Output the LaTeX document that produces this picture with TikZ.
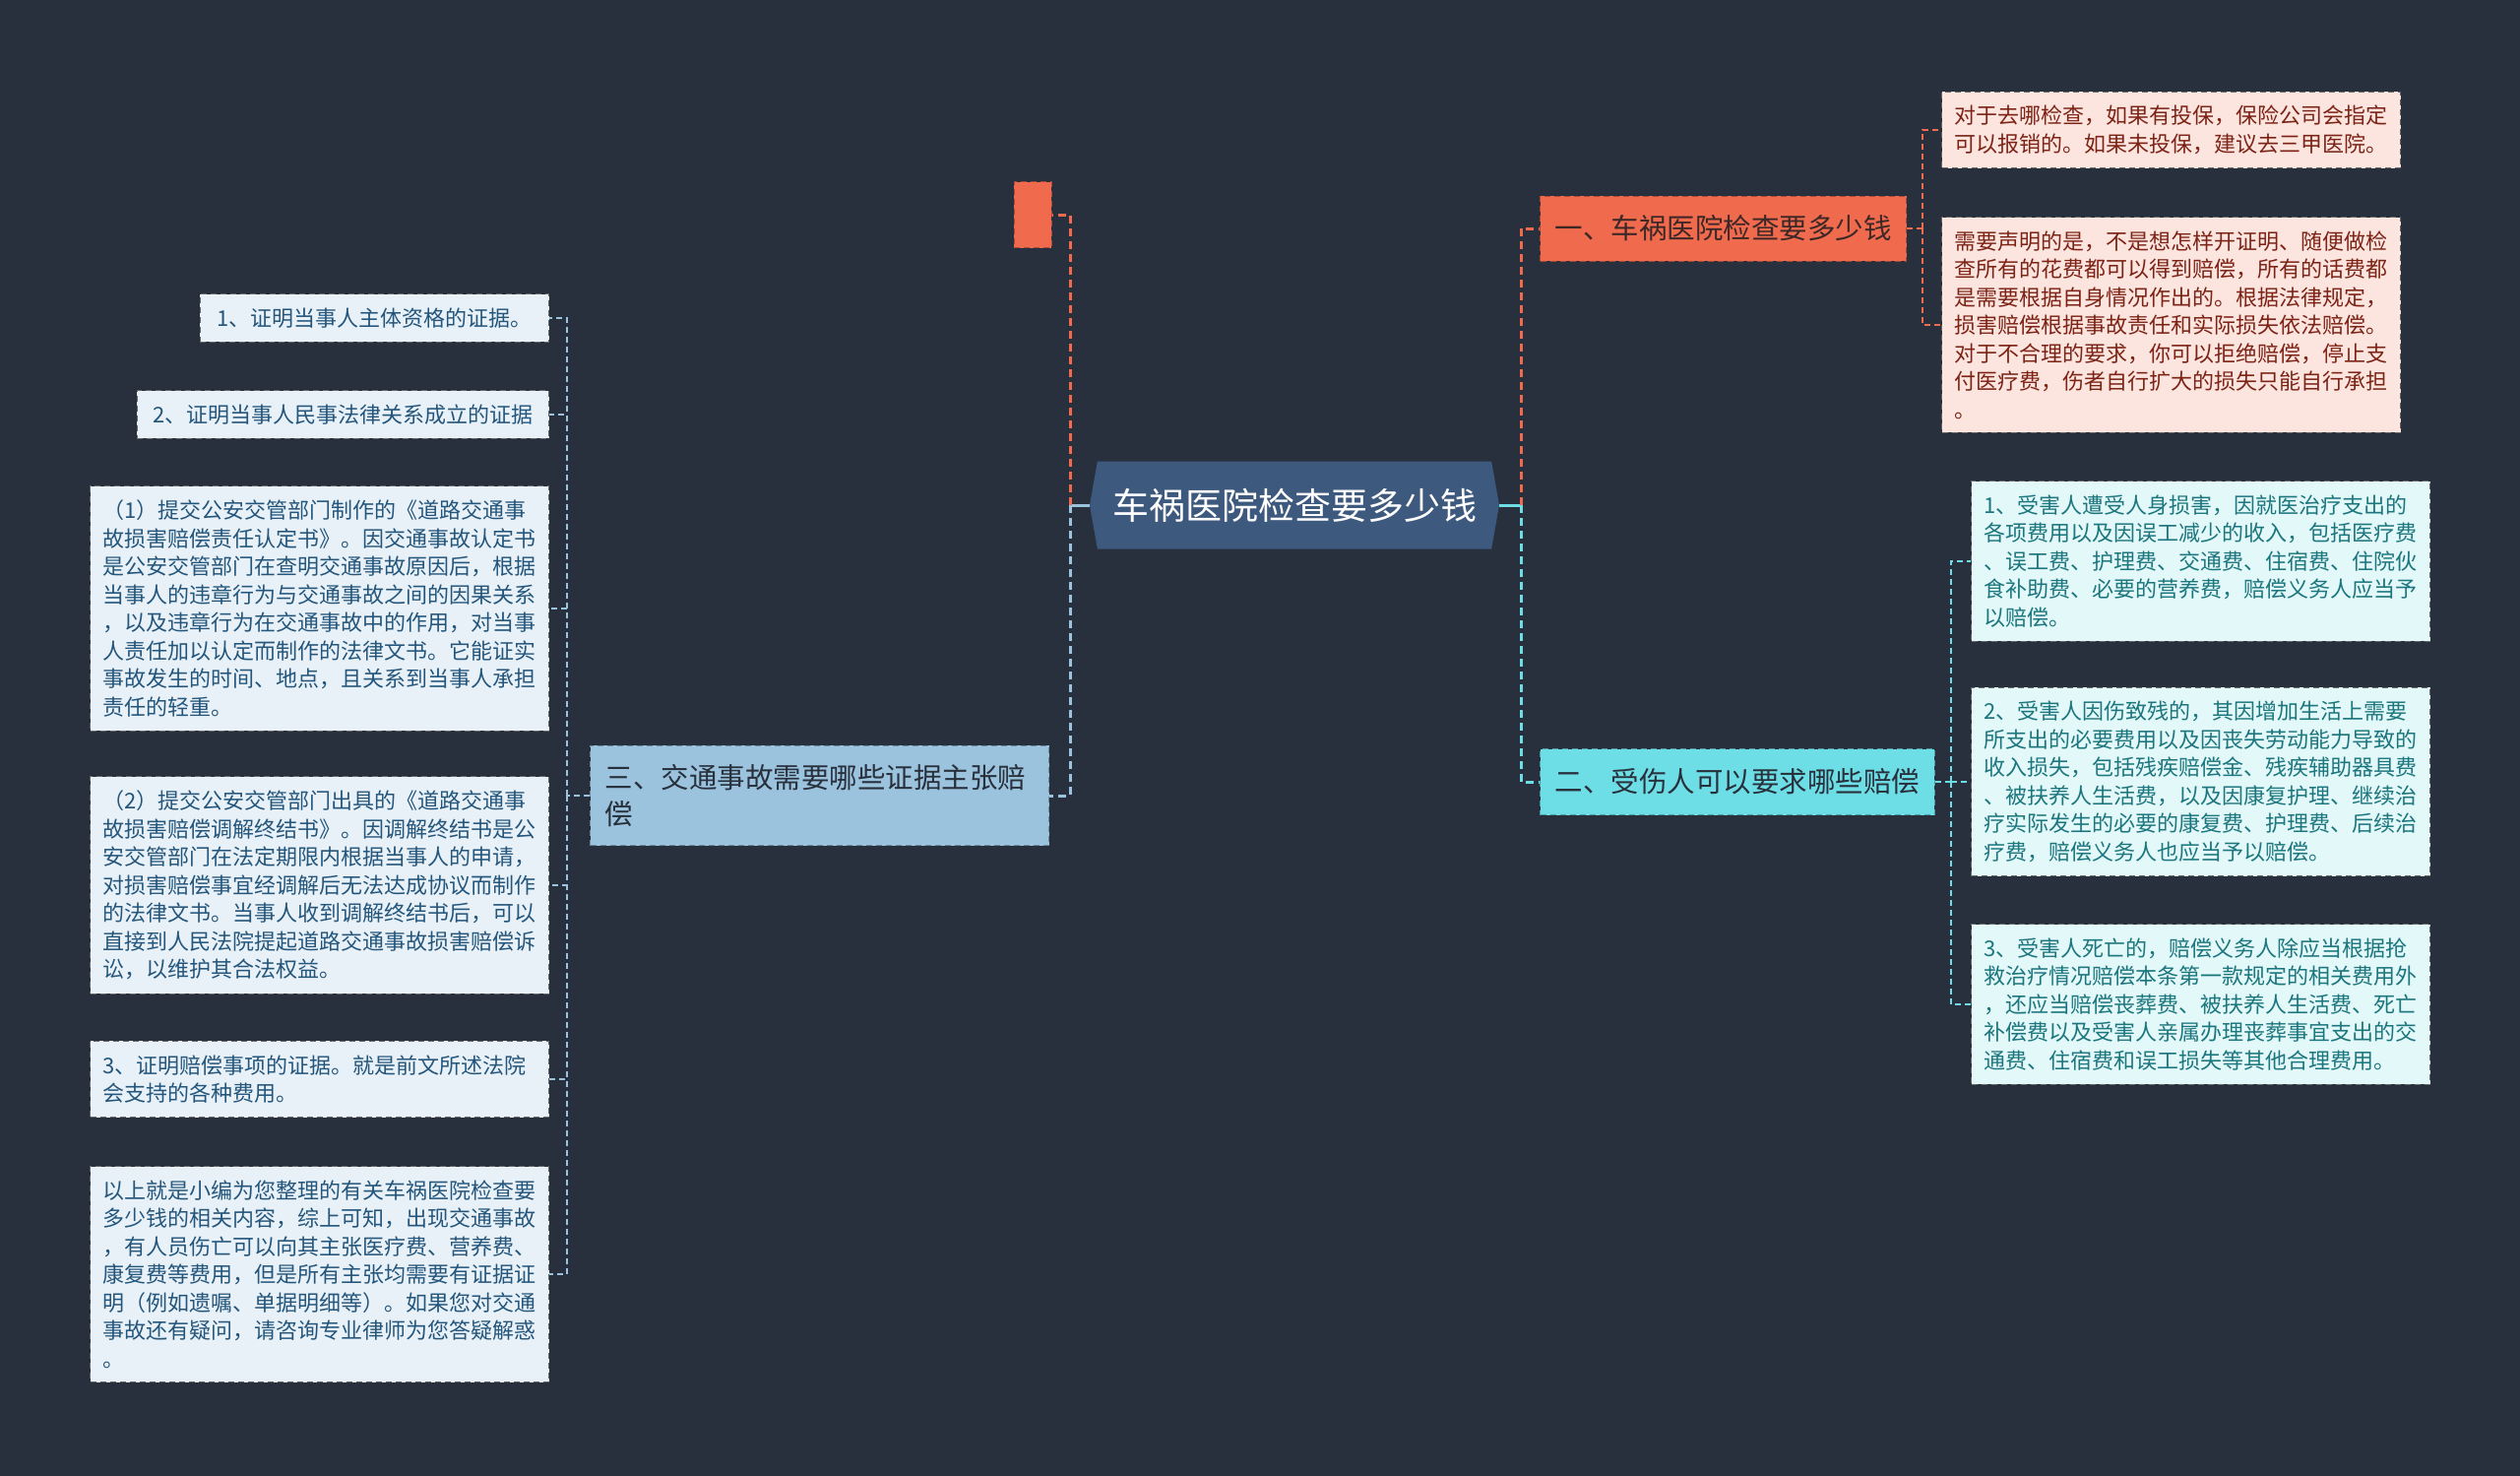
\documentclass[tikz,border=0pt]{standalone}
\usepackage{fontspec}
\setmainfont{Noto Sans CJK SC}
\usetikzlibrary{shapes.symbols}
\definecolor{bgnavy}{RGB}{40,48,62}
\definecolor{hubblue}{RGB}{61,89,126}
\definecolor{coral}{RGB}{240,106,78}
\definecolor{aqua}{RGB}{110,222,230}
\definecolor{skyblue}{RGB}{155,195,222}
\definecolor{pinkfill}{RGB}{252,229,223}
\definecolor{pinktext}{RGB}{125,35,22}
\definecolor{aquafill}{RGB}{226,248,249}
\definecolor{aquatext}{RGB}{28,118,126}
\definecolor{bluefill}{RGB}{233,241,248}
\definecolor{bluetext}{RGB}{36,86,124}
\definecolor{darktext}{RGB}{40,48,60}
\definecolor{browntext}{RGB}{60,40,38}
\begin{document}
\begin{tikzpicture}[x=1pt, y=-1pt,
    hub/.style={shape=signal, signal to=west and east, signal pointer angle=160, fill=hubblue, text=white,
        minimum width=416pt, minimum height=89pt, inner sep=0pt, font=\fontsize{37}{40}\selectfont},
    branch/.style={draw=#1!70!black, fill=#1, dash pattern=on 6pt off 4pt, line width=1pt,
        inner xsep=15pt, font=\fontsize{28.5}{37.5}\selectfont},
    leaf/.style={draw=black!60, dash pattern=on 6pt off 4pt, line width=1pt, align=left,
        inner xsep=13pt, inner ysep=14pt, font=\fontsize{22}{28.5}\selectfont},
    wide/.style={text width=440pt},
    leafR/.style={leaf, wide, fill=pinkfill, text=pinktext},
    leafC/.style={leaf, wide, fill=aquafill, text=aquatext},
    leafB/.style={leaf, fill=bluefill, text=bluetext},
    stub/.style={draw=#1, line width=3pt},
    trunk/.style={draw=#1, line width=3pt, dash pattern=on 8pt off 5pt},
    twig/.style={draw=#1, line width=1.5pt, dash pattern=on 6pt off 4pt}]
\fill[bgnavy] (0,0) rectangle (2560,1499);
\useasboundingbox (0,0) rectangle (2560,1499);

\node[hub] (hub) at (1315,513) {车祸医院检查要多少钱};

\node[branch=coral, text=browntext, minimum height=66pt, anchor=west] (b1) at (1564,232) {一、车祸医院检查要多少钱};
\node[branch=aqua, text=darktext, minimum height=67pt, anchor=west] (b2) at (1564,794) {二、受伤人可以要求哪些赔偿};
\node[branch=skyblue, text=darktext, align=left, text width=436pt, inner ysep=19pt, anchor=east] (b3) at (1066,808)
    {三、交通事故需要哪些证据主张赔\\偿};
\node[draw=coral!70!black, fill=coral, dash pattern=on 6pt off 4pt, line width=1pt,
    minimum width=38pt, minimum height=67pt, inner sep=0pt] (blank) at (1049,218) {};

\node[leafR, anchor=west] (a1) at (1972,132) {对于去哪检查，如果有投保，保险公司会指定\\可以报销的。如果未投保，建议去三甲医院。};
\node[leafR, anchor=west] (a2) at (1972,330) {需要声明的是，不是想怎样开证明、随便做检\\查所有的花费都可以得到赔偿，所有的话费都\\是需要根据自身情况作出的。根据法律规定，\\损害赔偿根据事故责任和实际损失依法赔偿。\\对于不合理的要求，你可以拒绝赔偿，停止支\\付医疗费，伤者自行扩大的损失只能自行承担\\。};

\node[leafC, anchor=west] (c1) at (2002,570) {1、受害人遭受人身损害，因就医治疗支出的\\各项费用以及因误工减少的收入，包括医疗费\\、误工费、护理费、交通费、住宿费、住院伙\\食补助费、必要的营养费，赔偿义务人应当予\\以赔偿。};
\node[leafC, anchor=west] (c2) at (2002,794) {2、受害人因伤致残的，其因增加生活上需要\\所支出的必要费用以及因丧失劳动能力导致的\\收入损失，包括残疾赔偿金、残疾辅助器具费\\、被扶养人生活费，以及因康复护理、继续治\\疗实际发生的必要的康复费、护理费、后续治\\疗费，赔偿义务人也应当予以赔偿。};
\node[leafC, anchor=west] (c3) at (2002,1020) {3、受害人死亡的，赔偿义务人除应当根据抢\\救治疗情况赔偿本条第一款规定的相关费用外\\，还应当赔偿丧葬费、被扶养人生活费、死亡\\补偿费以及受害人亲属办理丧葬事宜支出的交\\通费、住宿费和误工损失等其他合理费用。};

\node[leafB, inner xsep=17pt, anchor=east] (d1) at (558,323) {1、证明当事人主体资格的证据。};
\node[leafB, inner xsep=16pt, anchor=east] (d2) at (558,421) {2、证明当事人民事法律关系成立的证据};
\node[leafB, wide, anchor=east] (d3) at (558,618) {（1）提交公安交管部门制作的《道路交通事\\故损害赔偿责任认定书》。因交通事故认定书\\是公安交管部门在查明交通事故原因后，根据\\当事人的违章行为与交通事故之间的因果关系\\，以及违章行为在交通事故中的作用，对当事\\人责任加以认定而制作的法律文书。它能证实\\事故发生的时间、地点，且关系到当事人承担\\责任的轻重。};
\node[leafB, wide, anchor=east] (d4) at (558,899) {（2）提交公安交管部门出具的《道路交通事\\故损害赔偿调解终结书》。因调解终结书是公\\安交管部门在法定期限内根据当事人的申请，\\对损害赔偿事宜经调解后无法达成协议而制作\\的法律文书。当事人收到调解终结书后，可以\\直接到人民法院提起道路交通事故损害赔偿诉\\讼，以维护其合法权益。};
\node[leafB, wide, anchor=east] (d5) at (558,1096) {3、证明赔偿事项的证据。就是前文所述法院\\会支持的各种费用。};
\node[leafB, wide, anchor=east] (d6) at (558,1294) {以上就是小编为您整理的有关车祸医院检查要\\多少钱的相关内容，综上可知，出现交通事故\\，有人员伤亡可以向其主张医疗费、营养费、\\康复费等费用，但是所有主张均需要有证据证\\明（例如遗嘱、单据明细等）。如果您对交通\\事故还有疑问，请咨询专业律师为您答疑解惑\\。};

\coordinate (lj) at (1087,513);
\coordinate (rj) at (1545,513);
\coordinate (aj) at (1953,232);
\coordinate (cj) at (1982,794);
\coordinate (dj) at (576,808);

\draw[stub=skyblue] (hub.west) -- (lj);
\draw[trunk=coral] (lj) |- (blank.east);
\draw[trunk=skyblue] (lj) |- (b3.east);
\draw[stub=aqua] (hub.east) -- (rj);
\draw[trunk=coral] (rj) |- (b1.west);
\draw[trunk=aqua] (rj) |- (b2.west);

\draw[twig=coral] (b1.east) -- (aj);
\foreach \n in {a1,a2} \draw[twig=coral] (aj) |- (\n.west);
\draw[twig=aqua] (b2.east) -- (cj);
\foreach \n in {c1,c2,c3} \draw[twig=aqua] (cj) |- (\n.west);
\draw[twig=skyblue] (b3.west) -- (dj);
\foreach \n in {d1,d2,d3,d4,d5,d6} \draw[twig=skyblue] (dj) |- (\n.east);
\end{tikzpicture}
\end{document}
